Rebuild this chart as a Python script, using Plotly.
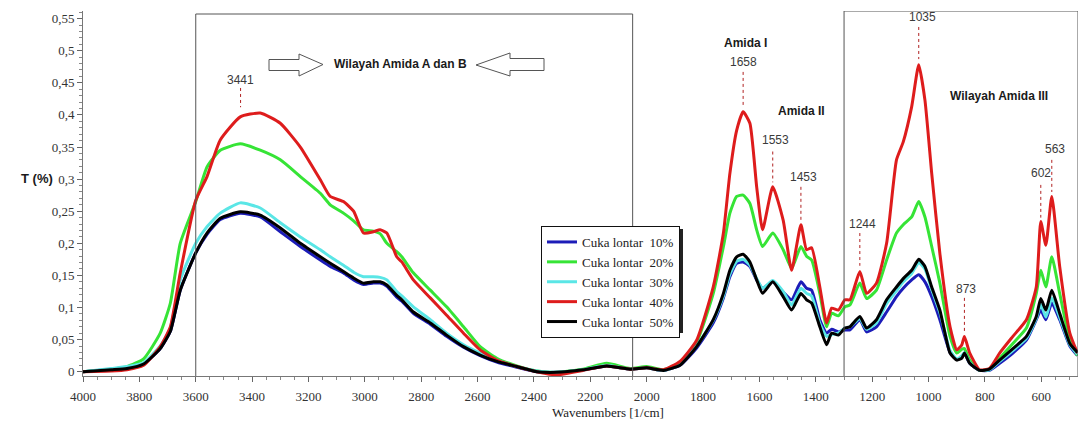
import plotly.graph_objects as go

# ---------------- data ----------------
wavenumber = [4000, 3900, 3844, 3785, 3726, 3690, 3655, 3600, 3560, 3513, 3442, 3371, 3300, 3229,
              3158, 3123, 3076, 3040, 3005, 2970, 2946, 2922, 2887, 2869, 2828, 2768, 2710, 2650,
              2591, 2532, 2461, 2390, 2319, 2226, 2142, 2059, 2000, 1941, 1882, 1823, 1764, 1728,
              1705, 1681, 1658, 1634, 1610, 1589, 1553, 1516, 1486, 1453, 1433, 1415, 1386, 1362,
              1344, 1320, 1297, 1279, 1244, 1220, 1185, 1149, 1114, 1090, 1060, 1035, 1013, 989,
              960, 924, 900, 882, 873, 854, 819, 784, 748, 701, 653, 618, 602, 584, 563, 535, 499, 472]

t_10 = [0.000, 0.004, 0.006, 0.012, 0.036, 0.063, 0.127, 0.185, 0.214, 0.237, 0.247, 0.241, 0.218, 0.195,
        0.174, 0.164, 0.154, 0.143, 0.136, 0.138, 0.138, 0.133, 0.116, 0.110, 0.091, 0.074, 0.055, 0.038,
        0.025, 0.015, 0.007, 0.000, -0.001, 0.003, 0.009, 0.004, 0.006, 0.002, 0.010, 0.037, 0.076, 0.115,
        0.148, 0.169, 0.171, 0.164, 0.143, 0.130, 0.140, 0.124, 0.112, 0.140, 0.130, 0.127, 0.081, 0.060,
        0.066, 0.062, 0.065, 0.065, 0.081, 0.062, 0.070, 0.093, 0.117, 0.130, 0.143, 0.151, 0.140, 0.117,
        0.081, 0.030, 0.019, 0.023, 0.029, 0.013, 0.002, 0.002, 0.013, 0.029, 0.049, 0.081, 0.096, 0.081,
        0.107, 0.081, 0.040, 0.025]
t_20 = [0.000, 0.004, 0.008, 0.020, 0.060, 0.107, 0.200, 0.265, 0.319, 0.345, 0.355, 0.345, 0.330, 0.304,
        0.278, 0.260, 0.247, 0.235, 0.221, 0.219, 0.215, 0.200, 0.187, 0.179, 0.154, 0.127, 0.101, 0.070,
        0.039, 0.021, 0.009, 0.001, -0.001, 0.004, 0.013, 0.005, 0.008, 0.003, 0.014, 0.046, 0.122, 0.195,
        0.247, 0.273, 0.275, 0.262, 0.221, 0.195, 0.216, 0.190, 0.161, 0.195, 0.180, 0.174, 0.122, 0.070,
        0.091, 0.087, 0.101, 0.104, 0.138, 0.114, 0.127, 0.174, 0.216, 0.229, 0.241, 0.265, 0.241, 0.195,
        0.138, 0.055, 0.029, 0.035, 0.036, 0.018, 0.002, 0.004, 0.021, 0.044, 0.068, 0.122, 0.158, 0.132,
        0.179, 0.122, 0.049, 0.025]
t_30 = [0.000, 0.005, 0.008, 0.014, 0.040, 0.068, 0.143, 0.200, 0.226, 0.247, 0.263, 0.255, 0.232, 0.210,
        0.190, 0.179, 0.166, 0.155, 0.148, 0.148, 0.147, 0.143, 0.125, 0.118, 0.101, 0.081, 0.060, 0.042,
        0.029, 0.018, 0.008, 0.001, -0.001, 0.003, 0.010, 0.004, 0.006, 0.002, 0.011, 0.040, 0.080, 0.118,
        0.152, 0.172, 0.175, 0.166, 0.145, 0.130, 0.142, 0.125, 0.104, 0.130, 0.122, 0.118, 0.075, 0.055,
        0.058, 0.060, 0.068, 0.070, 0.083, 0.066, 0.076, 0.106, 0.126, 0.140, 0.153, 0.170, 0.160, 0.128,
        0.092, 0.033, 0.020, 0.025, 0.030, 0.014, 0.002, 0.003, 0.016, 0.033, 0.052, 0.083, 0.105, 0.085,
        0.115, 0.085, 0.042, 0.027]
t_40 = [0.000, 0.001, 0.003, 0.010, 0.039, 0.070, 0.154, 0.267, 0.304, 0.361, 0.397, 0.403, 0.387, 0.350,
        0.299, 0.273, 0.265, 0.250, 0.216, 0.218, 0.221, 0.216, 0.179, 0.171, 0.143, 0.115, 0.088, 0.060,
        0.034, 0.018, 0.008, 0.000, -0.005, 0.002, 0.009, 0.004, 0.006, 0.003, 0.016, 0.049, 0.132, 0.216,
        0.309, 0.376, 0.405, 0.387, 0.288, 0.221, 0.288, 0.236, 0.158, 0.229, 0.190, 0.193, 0.132, 0.076,
        0.099, 0.096, 0.112, 0.112, 0.156, 0.122, 0.138, 0.200, 0.330, 0.358, 0.413, 0.478, 0.423, 0.309,
        0.184, 0.070, 0.034, 0.042, 0.055, 0.029, 0.003, 0.005, 0.029, 0.055, 0.081, 0.132, 0.234, 0.197,
        0.273, 0.164, 0.060, 0.029]
t_50 = [0.000, 0.003, 0.005, 0.012, 0.036, 0.063, 0.127, 0.185, 0.216, 0.239, 0.249, 0.244, 0.224, 0.200,
        0.179, 0.169, 0.156, 0.146, 0.138, 0.140, 0.140, 0.135, 0.119, 0.112, 0.093, 0.076, 0.057, 0.039,
        0.026, 0.016, 0.008, 0.000, -0.001, 0.003, 0.009, 0.004, 0.006, 0.002, 0.010, 0.039, 0.081, 0.122,
        0.158, 0.179, 0.183, 0.171, 0.143, 0.122, 0.140, 0.117, 0.096, 0.122, 0.112, 0.107, 0.070, 0.042,
        0.060, 0.057, 0.068, 0.070, 0.086, 0.068, 0.081, 0.112, 0.132, 0.145, 0.158, 0.175, 0.164, 0.132,
        0.096, 0.029, 0.018, 0.021, 0.029, 0.013, 0.002, 0.004, 0.018, 0.036, 0.055, 0.086, 0.114, 0.096,
        0.127, 0.091, 0.044, 0.030]

series_names = ["Cuka lontar\u00a0\u00a010%", "Cuka lontar\u00a0\u00a020%", "Cuka lontar\u00a0\u00a030%",
                "Cuka lontar\u00a0\u00a040%", "Cuka lontar\u00a0\u00a050%"]
series_values = [t_10, t_20, t_30, t_40, t_50]
series_colors = ["#1c1cb8", "#36e436", "#5ae6e6", "#de1c1c", "#000000"]

y_tick_vals = [0, 0.05, 0.1, 0.15, 0.2, 0.25, 0.3, 0.35, 0.4, 0.45, 0.5, 0.55]
y_tick_text = ["0", "0,05", "0,1", "0,15", "0,2", "0,25", "0,3", "0,35", "0,4", "0,45", "0,5", "0,55"]
x_tick_vals = [4000, 3800, 3600, 3400, 3200, 3000, 2800, 2600, 2400, 2200, 2000, 1800, 1600, 1400,
               1200, 1000, 800, 600]

# peak labels: (label, wavenumber of the dotted marker, label y, marker top, marker bottom)
peaks = [("3441", 3441, 0.455, 0.442, 0.412),
         ("1658", 1658, 0.482, 0.467, 0.413),
         ("1553", 1553, 0.361, 0.343, 0.295),
         ("1453", 1453, 0.303, 0.288, 0.236),
         ("1035", 1035, 0.553, 0.537, 0.487),
         ("1244", 1244, 0.230, 0.216, 0.165),
         ("873", 873, 0.129, 0.115, 0.062),
         ("602", 602, 0.309, 0.291, 0.240),
         ("563", 563, 0.347, 0.330, 0.280)]
peak_label_x = {"3441": 3441, "1658": 1658, "1553": 1544, "1453": 1443, "1035": 1023,
                "1244": 1234, "873": 868, "602": 601, "563": 553}

# ---------------- geometry helpers ----------------
X_MAX, X_MIN = 4000, 470
Y_MIN, Y_MAX = -0.0067, 0.5619
L, R, T, B = 83, 1, 11, 47
W, H = 1079, 423
PW, PH = W - L - R, H - T - B


def px_x(px):
    return X_MAX - (px - L) * (X_MAX - X_MIN) / PW


def px_y(py):
    return Y_MIN + (T + PH - py) / PH * (Y_MAX - Y_MIN)


def paper_x(px):
    return (px - L) / PW


def paper_y(py):
    return (T + PH - py) / PH


fig = go.Figure()
for name, vals, col in zip(series_names, series_values, series_colors):
    fig.add_trace(go.Scatter(x=wavenumber, y=vals, name=name, mode="lines",
                             line=dict(color=col, width=3, shape="spline", smoothing=0.5)))

shapes = []
box_col = "#555555"
# legend drop shadow (sits under the legend box)
shapes.append(dict(type="rect", xref="paper", yref="paper",
                   x0=paper_x(545), x1=paper_x(683), y0=paper_y(333), y1=paper_y(229),
                   fillcolor="#222222", line=dict(width=0), layer="above"))
# region boxes
box = [dict(type="line", x0=3600, x1=3600, y0=Y_MIN, y1=px_y(14)),
       dict(type="line", x0=3600, x1=2050, y0=px_y(14), y1=px_y(14)),
       dict(type="line", x0=2050, x1=2050, y0=Y_MIN, y1=px_y(14)),
       dict(type="line", x0=1300, x1=1300, y0=Y_MIN, y1=Y_MAX),
       dict(type="line", x0=1300, x1=X_MIN, y0=Y_MAX, y1=Y_MAX),
       dict(type="line", x0=X_MIN, x1=X_MIN, y0=Y_MIN, y1=Y_MAX)]
for s in box:
    s.update(xref="x", yref="y", line=dict(color=box_col, width=1), layer="above")
shapes += box


# block arrows
def poly(points):
    d = "M " + " L ".join(f"{px_x(a):.2f},{px_y(b):.5f}" for a, b in points) + " Z"
    return dict(type="path", path=d, xref="x", yref="y", fillcolor="white",
                line=dict(color="#555555", width=1), layer="above")


shapes.append(poly([(269, 59.5), (299, 59.5), (299, 54), (323, 64.5), (299, 76), (299, 70.5), (269, 70.5)]))
shapes.append(poly([(476, 65), (510, 53), (510, 58.5), (544, 58.5), (544, 70.5), (510, 70.5), (510, 76)]))

annotations = []
for lab, xw, ly, y0, y1 in peaks:
    shapes.append(dict(type="line", xref="x", yref="y", x0=xw, x1=xw, y0=y0, y1=y1,
                       line=dict(color="#b02020", width=1, dash="dot"), layer="above"))
    annotations.append(dict(x=peak_label_x[lab], y=ly, xref="x", yref="y", text=lab, showarrow=False,
                            font=dict(family="Liberation Sans, Arial", size=12, color="#3a3a3a")))

bold = dict(family="Liberation Sans, Arial", size=12, color="#1a1a1a")
annotations += [
    dict(x=px_x(400), y=px_y(64), xref="x", yref="y", text="<b>Wilayah Amida A dan B</b>",
         showarrow=False, font=bold),
    dict(x=px_x(745), y=px_y(43), xref="x", yref="y", text="<b>Amida I</b>", showarrow=False, font=bold),
    dict(x=px_x(801), y=px_y(111), xref="x", yref="y", text="<b>Amida II</b>", showarrow=False, font=bold),
    dict(x=px_x(999), y=px_y(96), xref="x", yref="y", text="<b>Wilayah Amida III</b>",
         showarrow=False, font=bold),
    dict(x=paper_x(37), y=paper_y(178), xref="paper", yref="paper", text="<b>T (%)</b>",
         showarrow=False, font=dict(family="Liberation Sans, Arial", size=13, color="#1a1a1a")),
    dict(x=paper_x(608), y=paper_y(412.5), xref="paper", yref="paper", text="Wavenumbers [1/cm]",
         showarrow=False, font=dict(family="Liberation Serif, Times New Roman", size=13, color="#222")),
]
for a in annotations:
    a["xanchor"] = "center"
    a["yanchor"] = "middle"

tick_font = dict(family="Liberation Serif, Times New Roman", size=13, color="#333")
fig.update_layout(
    width=W, height=H, margin=dict(l=L, r=R, t=T, b=B, autoexpand=False),
    paper_bgcolor="white", plot_bgcolor="white",
    showlegend=True,
    legend=dict(x=paper_x(541), y=paper_y(226), xanchor="left", yanchor="top",
                bgcolor="white", bordercolor="#111", borderwidth=1,
                font=dict(family="Liberation Serif, Times New Roman", size=13, color="#222"),
                itemwidth=30, tracegroupgap=0),
    shapes=shapes, annotations=annotations,
    xaxis=dict(range=[X_MAX, X_MIN], tickvals=x_tick_vals, ticks="outside", ticklen=5,
               tickcolor="#666", showline=True, linecolor="#777", linewidth=1, showgrid=False,
               zeroline=False, tickfont=tick_font, ticklabelstandoff=3,
               minor=dict(dtick=50, tick0=0, ticks="outside", ticklen=3, tickcolor="#888")),
    yaxis=dict(range=[Y_MIN, Y_MAX], tickvals=y_tick_vals, ticktext=y_tick_text, ticks="outside",
               ticklen=5, tickcolor="#666", showline=True, linecolor="#777", linewidth=1,
               showgrid=False, zeroline=False, tickfont=tick_font,
               minor=dict(dtick=0.01, tick0=0, ticks="outside", ticklen=3, tickcolor="#888")),
)

fig.write_html("out.html", config={"displayModeBar": False},
               post_script="document.body.style.margin='0';")
